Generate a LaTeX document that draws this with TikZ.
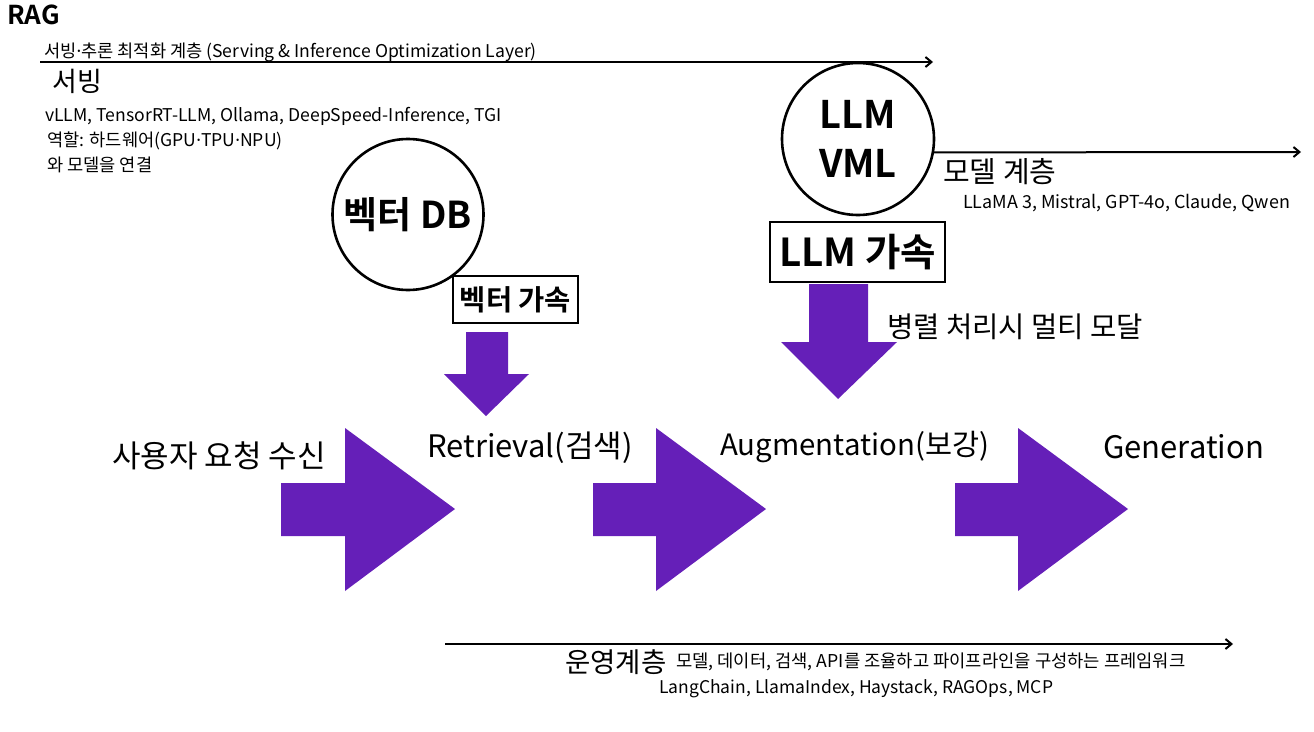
\documentclass[tikz,border=0pt]{standalone}
\usepackage{fontspec}
\setmainfont{Noto Sans CJK KR}[BoldFont={Noto Sans CJK KR Bold}]
\newfontfamily\latinf{Noto Sans}
\newcommand{\md}{{\latinf ·}}
\usetikzlibrary{arrows.meta}
\definecolor{rpurple}{RGB}{101,31,184}
\newcommand{\fs}[1]{\fontsize{#1}{#1}\selectfont}
\tikzset{
  txt/.style={inner sep=0pt, anchor=west},
  bigarrow/.style={fill=rpurple, draw=none},
  layerline/.style={line width=2pt, -{Straight Barb[length=6pt,width=10pt,line width=2pt]}},
  circ/.style={circle, draw, line width=2.6pt, inner sep=0pt, font=\bfseries},
  accbox/.style={draw, line width=2.6pt, inner sep=0pt, font=\bfseries}
}
\begin{document}
\begin{tikzpicture}[x=1pt,y=-1pt]
\useasboundingbox (0,0) rectangle (1314,731);
% title
\node[txt, font=\bfseries\fs{26}] (rag) at (7,15) {RAG};
% serving layer
\coordinate (sl0) at (40,62);
\coordinate (sl1) at (933,62);
\draw[layerline] (sl0) -- (sl1);
\node[txt, font=\fs{17.6}] (slt) at (44,52) {서빙\md 추론 최적화 계층 (Serving \& Inference Optimization Layer)};
\node[txt, font=\fs{27}] (srv) at (52,81) {서빙};
\node[txt, font=\fs{17.6}] (srv1) at (45,116) {vLLM, TensorRT-LLM, Ollama, DeepSpeed-Inference, TGI};
\node[txt, font=\fs{17.6}] (srv2) at (47,141) {역할: 하드웨어(GPU\md TPU\md NPU)};
\node[txt, font=\fs{17.6}] (srv3) at (47,165) {와 모델을 연결};
% vector DB
\node[circ, minimum size=151pt, font=\bfseries\fs{37}] (vdb) at (408,214.5) {벡터 DB};
\node[accbox, minimum width=125pt, minimum height=47pt, font=\bfseries\fs{28.5}] (vacc) at (515.5,299.5) {벡터 가속};
\fill[bigarrow] (466,332) -- (508,332) -- (508,374) -- (529,374) -- (486,416) -- (444,374) -- (466,374) -- cycle;
% LLM
\node[circ, minimum size=152pt, align=center, font=\bfseries\fs{38}] (llm) at (858,139) {LLM\\[11pt]VML};
\coordinate (ml1) at (1301,152);
\draw[layerline] (llm.-10) -- (ml1);
\node[txt, font=\fs{29}] (mlt) at (943,172) {모델 계층};
\node[txt, font=\fs{17.9}] (mlx) at (963,203) {LLaMA 3, Mistral, GPT-4o, Claude, Qwen};
\node[accbox, minimum width=175pt, minimum height=60pt, font=\bfseries\fs{38.5}] (lacc) at (857.5,252) {LLM 가속};
\fill[bigarrow] (809,284) -- (868,284) -- (868,342) -- (897,342) -- (838,399) -- (781,342) -- (809,342) -- cycle;
\node[txt, font=\fs{28.6}] (par) at (887,327) {병렬 처리시 멀티 모달};
% pipeline
\node[txt, font=\fs{31}] (req) at (112,456) {사용자 요청 수신};
\node[txt, font=\fs{31}] (ret) at (427,448) {Retrieval(검색)};
\node[txt, font=\fs{29.4}] (aug) at (720,447) {Augmentation(보강)};
\node[txt, font=\fs{31}] (gen) at (1103,447) {Generation};
\fill[bigarrow] (281,483) -- (345,483) -- (345,428) -- (455,509) -- (345,591) -- (345,536) -- (281,536) -- cycle;
\fill[bigarrow] (593,483) -- (656,483) -- (656,428) -- (766,509) -- (656,591) -- (656,536) -- (593,536) -- cycle;
\fill[bigarrow] (955,483) -- (1018,483) -- (1018,428) -- (1128,509) -- (1018,591) -- (1018,536) -- (955,536) -- cycle;
% ops layer
\coordinate (ol0) at (445,644);
\coordinate (ol1) at (1233,644);
\draw[layerline] (ol0) -- (ol1);
\node[txt, font=\fs{27.5}] (opt) at (565,662) {운영계층};
\node[txt, font=\fs{17.7}] (opd) at (676,662) {모델, 데이터, 검색, API를 조율하고 파이프라인을 구성하는 프레임워크};
\node[txt, font=\fs{17.5}] (opx) at (659,689) {LangChain, LlamaIndex, Haystack, RAGOps, MCP};
\end{tikzpicture}
\end{document}
